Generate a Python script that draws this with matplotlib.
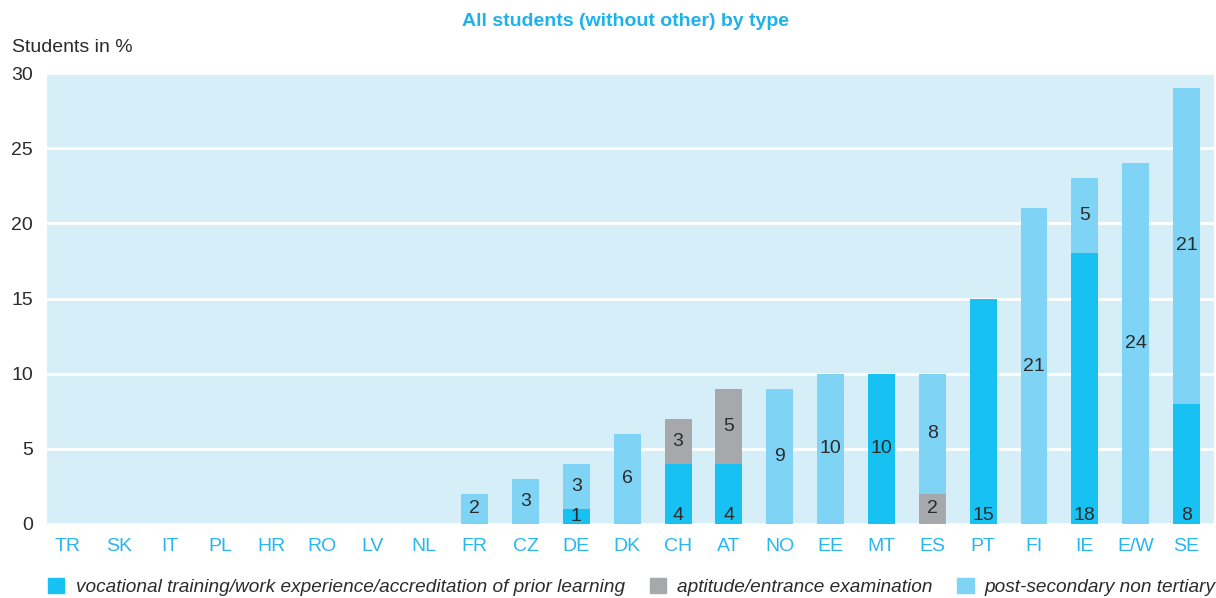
import matplotlib.pyplot as plt
from matplotlib.patches import Patch

plt.rcParams["font.family"] = ["Liberation Sans", "DejaVu Sans"]

countries = ["TR", "SK", "IT", "PL", "HR", "RO", "LV", "NL", "FR", "CZ", "DE",
             "DK", "CH", "AT", "NO", "EE", "MT", "ES", "PT", "FI", "IE", "E/W", "SE"]
vocational = [0, 0, 0, 0, 0, 0, 0, 0, 0, 0, 1, 0, 4, 4, 0, 0, 10, 0, 15, 0, 18, 0, 8]
aptitude = [0, 0, 0, 0, 0, 0, 0, 0, 0, 0, 0, 0, 3, 5, 0, 0, 0, 2, 0, 0, 0, 0, 0]
post_secondary = [0, 0, 0, 0, 0, 0, 0, 0, 2, 3, 3, 6, 0, 0, 9, 10, 0, 8, 0, 21, 5, 24, 21]
# countries whose vocational label sits at the bottom of the bar
bottom_label = ["CH", "AT", "PT", "IE", "SE"]

c_voc = "#17C1F1"
c_apt = "#A7A8AB"
c_post = "#7FD4F6"
c_panel = "#D6EEF8"
c_title = "#1EB2EA"
c_text = "#2B2B2B"

fig = plt.figure(figsize=(12.16, 5.98), dpi=100)
ax = fig.add_axes([47 / 1216, 1 - 524 / 598, (1214 - 47) / 1216, (524 - 73) / 598])
ax.set_facecolor(c_panel)

x = list(range(len(countries)))
w = 0.53
base2 = [v + a for v, a in zip(vocational, aptitude)]
ax.bar(x, vocational, w, color=c_voc, zorder=3)
ax.bar(x, aptitude, w, bottom=vocational, color=c_apt, zorder=3)
ax.bar(x, post_secondary, w, bottom=base2, color=c_post, zorder=3)

fs = 14
for i, c in enumerate(countries):
    if vocational[i]:
        if c in bottom_label:
            ax.text(i, 0.02, str(vocational[i]), ha="center", va="bottom",
                    fontsize=fs, color=c_text, zorder=4)
        else:
            ax.text(i, vocational[i] / 2, str(vocational[i]), ha="center",
                    va="center", fontsize=fs, color=c_text, zorder=4)
    if aptitude[i]:
        ax.text(i, vocational[i] + aptitude[i] / 2, str(aptitude[i]), ha="center",
                va="center", fontsize=fs, color=c_text, zorder=4)
    if post_secondary[i]:
        ax.text(i, base2[i] + post_secondary[i] / 2, str(post_secondary[i]),
                ha="center", va="center", fontsize=fs, color=c_text, zorder=4)

ax.set_ylim(0, 30)
ax.set_xlim(-0.41, 22.54)
ax.set_yticks([0, 5, 10, 15, 20, 25, 30])
ax.yaxis.grid(True, color="white", linewidth=2, zorder=1)
ax.set_axisbelow(True)
ax.set_xticks(x)
ax.set_xticklabels(countries)
ax.tick_params(axis="x", length=0, pad=10, labelsize=fs, labelcolor="#29B6EE")
ax.tick_params(axis="y", length=0, pad=10, labelsize=fs, labelcolor=c_text)
for s in ax.spines.values():
    s.set_visible(False)

fig.text(625 / 1216, 1 - 22 / 598, "All students (without other) by type",
         ha="center", va="center", fontsize=14, fontweight="bold", color=c_title)
fig.text(12 / 1216, 1 - 48 / 598, "Students in %", ha="left", va="center",
         fontsize=fs, color=c_text)

handles = [Patch(color=c_voc), Patch(color=c_apt), Patch(color=c_post)]
labels = ["vocational training/work experience/accreditation of prior learning",
          "aptitude/entrance examination", "post-secondary non tertiary"]
fig.legend(handles, labels, loc="center", bbox_to_anchor=(632 / 1216, 1 - 587 / 598),
           ncol=3, frameon=False, prop={"style": "italic", "size": 13.7},
           handlelength=0.85, handleheight=0.85, handletextpad=0.6, columnspacing=1.3,
           labelcolor=c_text)

fig.savefig("out.png", dpi=100)
